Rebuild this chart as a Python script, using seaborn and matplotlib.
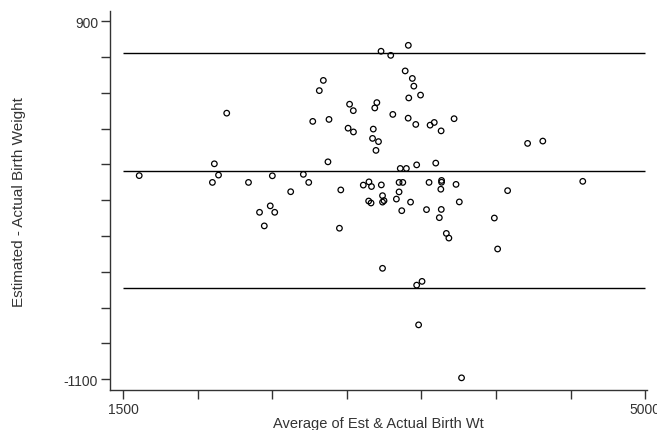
import matplotlib
matplotlib.use("Agg")
import matplotlib.pyplot as plt
import seaborn as sns
import pandas as pd

# Bland-Altman style data: average of estimated & actual vs difference
avg_wt = [1607, 2194, 2111, 2139, 2098, 2340, 2500, 2708, 2744, 2623,
          2414, 2486, 2516, 2446, 2842, 2815, 2771, 2880, 2873, 2959,
          2950, 3412, 3229, 3294, 3391, 3439, 3449, 3415, 3494, 3018,
          3043, 3201, 3187, 3308, 3411, 3462, 3558, 3586, 3632, 3719,
          3008, 3044, 3177, 3172, 3212, 3195, 4212, 4314, 3358, 3399,
          3468, 3596, 3110, 3148, 3165, 3231, 3239, 3239, 3249, 3146,
          3162, 3350, 3375, 3350, 3332, 3427, 3368, 3551, 3635, 3635,
          3630, 3732, 3534, 3633, 3754, 4078, 4582, 3620, 3989, 3667,
          3684, 4011, 3239, 3504, 3468, 3481, 3769]
diff_wt = [37, 386, 103, 40, -1, -1, 36, 44, -1, -53,
           -168, -132, -168, -244, 569, 512, 340, 351, 114, -43,
           -257, 765, 732, 709, 622, 580, 537, 471, 487, 436,
           400, 445, 415, 379, 358, 323, 319, 334, 287, 355,
           302, 281, 297, 245, 227, 178, 217, 230, 77, 77,
           97, 107, -16, 2, -24, -15, -75, -111, -103, -105,
           -116, -1, -1, -54, -94, -111, -159, -1, 10, 0,
           -39, -12, -153, -152, -110, -47, 5, -198, -200, -286,
           -312, -373, -481, -554, -575, -797, -1093]

# mean difference and limits of agreement
ref_lines = [721, 64, -592]
y_ticks = [900, 700, 500, 300, 100, -100, -300, -500, -700, -900, -1100]
x_ticks = [1500, 2000, 2500, 3000, 3500, 4000, 4500, 5000]

df = pd.DataFrame({"avg": avg_wt, "diff": diff_wt})

sns.set_theme(style="white")
plt.rcParams["font.family"] = ["Liberation Sans", "DejaVu Sans"]

fig = plt.figure(figsize=(6.57, 4.31), dpi=100)
ax = fig.add_axes([0.1674, 0.0928, 0.8174, 0.879])

sns.scatterplot(data=df, x="avg", y="diff", ax=ax, marker="o", s=16,
                facecolor="none", edgecolor="black", linewidth=0.9)
ax.hlines(ref_lines, x_ticks[0], x_ticks[-1], colors="black", linewidth=1.0)

ax.set_xlim(1411, 5013)
ax.set_ylim(-1161, 956)
ax.set_xticks(x_ticks)
ax.set_yticks(y_ticks)
ax.set_xticklabels([str(t) if t in (1500, 5000) else "" for t in x_ticks])
ax.set_yticklabels([str(t) if t in (900, -1100) else "" for t in y_ticks])
ax.tick_params(axis="both", direction="out", length=6.5, width=1.0,
               color="#333333", labelsize=10, labelcolor="#333333", pad=2,
               left=True, bottom=True)

for side in ["top", "right"]:
    ax.spines[side].set_visible(False)
for side in ["left", "bottom"]:
    ax.spines[side].set_color("#333333")
    ax.spines[side].set_linewidth(1.0)

ax.set_xlabel("Average of Est & Actual Birth Wt", fontsize=10.5, color="#333333", labelpad=0)
ax.set_ylabel("Estimated - Actual Birth Weight", fontsize=11, color="#333333")
ax.yaxis.set_label_coords(-0.156, 0.5)

fig.savefig("out.png", dpi=100)
